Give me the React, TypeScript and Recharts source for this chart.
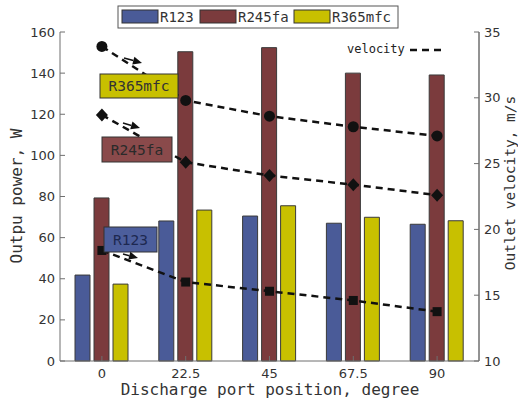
import React from "react";
import { ComposedChart, Bar, Line, XAxis, YAxis } from "recharts";

// discharge port positions (degree)
const positions = ["0", "22.5", "45", "67.5", "90"];

// output power, W
const powerR123 = [41.8, 68.1, 70.5, 67.0, 66.5];
const powerR245fa = [79.3, 150.4, 152.4, 140.0, 139.1];
const powerR365mfc = [37.4, 73.4, 75.5, 69.9, 68.2];

// outlet velocity, m/s
const velR123 = [18.4, 16.0, 15.3, 14.6, 13.75];
const velR245fa = [28.7, 25.1, 24.1, 23.4, 22.6];
const velR365mfc = [33.9, 29.8, 28.6, 27.8, 27.1];

const powerTicks = [0, 20, 40, 60, 80, 100, 120, 140, 160];
const velocityTicks = [10, 15, 20, 25, 30, 35];

const fluids = ["R123", "R245fa", "R365mfc"];
const fluidColors = ["#4a5b98", "#7b3b3d", "#c8c000"];

const data = positions.map((pos, i) => ({
  pos,
  pR123: powerR123[i],
  pR245fa: powerR245fa[i],
  pR365mfc: powerR365mfc[i],
  vR123: velR123[i],
  vR245fa: velR245fa[i],
  vR365mfc: velR365mfc[i],
}));

const MONO = "'DejaVu Sans Mono', monospace";
const SANS = "'DejaVu Sans', sans-serif";
const axisColor = "#6f6f6f";
const tickStyle = { fill: "#333", fontSize: 13, fontFamily: SANS };

const circleDot = (p: any) => (
  <circle key={`c${p.index}`} cx={p.cx} cy={p.cy} r={5.5} fill="#111" />
);
const diamondDot = (p: any) => (
  <path
    key={`d${p.index}`}
    d={`M${p.cx},${p.cy - 6.5}L${p.cx + 6},${p.cy}L${p.cx},${p.cy + 6.5}L${p.cx - 6},${p.cy}Z`}
    fill="#111"
  />
);
const squareDot = (p: any) => (
  <rect key={`s${p.index}`} x={p.cx - 4.5} y={p.cy - 4.5} width={9} height={9} fill="#111" />
);

function Tag({ x, y, w, h, text, fill, color }: any) {
  return (
    <g>
      <rect x={x} y={y} width={w} height={h} fill={fill} stroke="#333" strokeWidth={1} />
      <text x={x + w / 2} y={y + h / 2 + 5} textAnchor="middle" fontFamily={MONO} fontSize={14.5} fill={color}>
        {text}
      </text>
    </g>
  );
}

function Arrow({ x1, y1, x2, y2 }: any) {
  const a = Math.atan2(y2 - y1, x2 - x1);
  const L = 9;
  const s = 4;
  const bx = x2 - L * Math.cos(a);
  const by = y2 - L * Math.sin(a);
  const px = -Math.sin(a) * s;
  const py = Math.cos(a) * s;
  return (
    <g>
      <line x1={x1} y1={y1} x2={bx} y2={by} stroke="#111" strokeWidth={1.5} />
      <polygon points={`${x2},${y2} ${bx + px},${by + py} ${bx - px},${by - py}`} fill="#111" />
    </g>
  );
}

export default function App() {
  return (
    <div style={{ position: "absolute", left: 0, top: 0, width: 518, height: 403, background: "#fff" }}>
      <ComposedChart
        width={518}
        height={403}
        data={data}
        margin={{ top: 32, right: 0, left: 0, bottom: 0 }}
        barSize={15}
        barGap={4}
      >
        <XAxis
          dataKey="pos"
          height={42}
          stroke={axisColor}
          tickSize={-5}
          tickMargin={13}
          tick={tickStyle}
        />
        <XAxis
          xAxisId="top"
          dataKey="pos"
          orientation="top"
          height={0}
          stroke={axisColor}
          tickSize={-5}
          tick={false}
        />
        <YAxis
          yAxisId="left"
          width={60}
          domain={[0, 160]}
          ticks={powerTicks}
          stroke={axisColor}
          tickSize={-5}
          tickMargin={10}
          tick={tickStyle}
        />
        <YAxis
          yAxisId="right"
          orientation="right"
          width={39}
          domain={[10, 35]}
          ticks={velocityTicks}
          stroke={axisColor}
          tickSize={-5}
          tickMargin={10}
          tick={tickStyle}
        />
        <Bar yAxisId="left" dataKey="pR123" name={fluids[0]} fill={fluidColors[0]} stroke="#3a3a3a" isAnimationActive={false} />
        <Bar yAxisId="left" dataKey="pR245fa" name={fluids[1]} fill={fluidColors[1]} stroke="#3a3a3a" isAnimationActive={false} />
        <Bar yAxisId="left" dataKey="pR365mfc" name={fluids[2]} fill={fluidColors[2]} stroke="#3a3a3a" isAnimationActive={false} />
        <Line yAxisId="right" dataKey="vR365mfc" stroke="#111" strokeWidth={2.5} strokeDasharray="7 5" dot={circleDot} isAnimationActive={false} />
        <Line yAxisId="right" dataKey="vR245fa" stroke="#111" strokeWidth={2.5} strokeDasharray="7 5" dot={diamondDot} isAnimationActive={false} />
        <Line yAxisId="right" dataKey="vR123" stroke="#111" strokeWidth={2.5} strokeDasharray="7 5" dot={squareDot} isAnimationActive={false} />
      </ComposedChart>

      {/* annotations, titles and legends */}
      <svg width={518} height={403} style={{ position: "absolute", left: 0, top: 0, pointerEvents: "none" }}>
        <line x1={479} y1={32} x2={479} y2={361} stroke={axisColor} />
        <Tag x={100} y={74} w={78} h={24} text="R365mfc" fill={fluidColors[2]} color="#333" />
        <Arrow x1={124} y1={58} x2={142} y2={63} />
        <Tag x={102} y={137} w={70} h={25} text="R245fa" fill="#8a4a4b" color="#2a2a2a" />
        <Arrow x1={123} y1={123} x2={140} y2={128} />
        <Tag x={104} y={227} w={53} h={25} text="R123" fill="#4c5e9c" color="#1d2850" />
        <Arrow x1={123} y1={254} x2={138} y2={258} />

        <text x={347} y={53} fontFamily={MONO} fontSize={12} fill="#222">velocity</text>
        <line x1={410} y1={50} x2={446} y2={50} stroke="#111" strokeWidth={2.5} strokeDasharray="7 5" />

        <text x={270} y={395} textAnchor="middle" fontFamily={MONO} fontSize={16} fill="#333">
          Discharge port position, degree
        </text>
        <text
          transform="translate(22,196) rotate(-90)"
          textAnchor="middle"
          fontFamily={MONO}
          fontSize={16}
          fill="#333"
        >
          Outpu power, W
        </text>
        <text
          transform="translate(515,183) rotate(-90)"
          textAnchor="middle"
          fontFamily={MONO}
          fontSize={14.5}
          fill="#333"
        >
          Outlet velocity, m/s
        </text>

        <rect x={118} y={6} width={280} height={22} fill="#fff" stroke="#555" />
        {fluids.map((f, i) => {
          const xs = [122, 200, 294];
          return (
            <g key={f}>
              <rect x={xs[i]} y={10} width={36} height={13} fill={fluidColors[i]} stroke="#333" />
              <text x={xs[i] + 38} y={22} fontFamily={MONO} fontSize={14} fill="#333">
                {f}
              </text>
            </g>
          );
        })}
      </svg>
    </div>
  );
}
